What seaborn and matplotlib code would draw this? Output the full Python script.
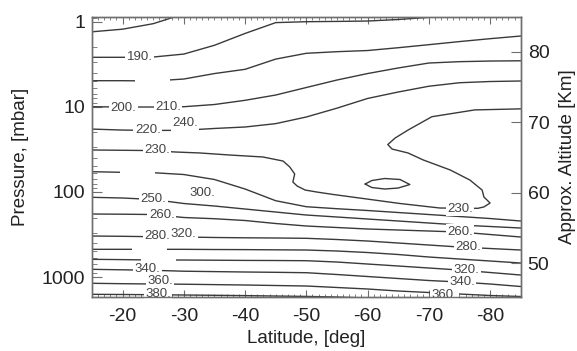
import matplotlib
matplotlib.use("Agg")
import matplotlib.pyplot as plt
from matplotlib.ticker import FixedLocator, LogLocator, MultipleLocator, NullFormatter
import seaborn as sns

sns.set_theme(style="ticks")
plt.rcParams["font.family"] = ["Liberation Sans", "DejaVu Sans"]
plt.rcParams["axes.unicode_minus"] = False

# -------------------------------
# Isotherms: pressure (mbar) along latitude (deg)
# -------------------------------
lat = [-15, -20, -25, -30, -35, -40, -45, -50, -55, -60, -65, -70, -75, -80, -85]

top_lat = [-15, -20, -25, -27.5, -30]
top_p = [1.32, 1.23, 1.06, 0.93, 0.80]

t190_lat = lat[:12] + [-75]
t190_p = [2.63, 2.63, 2.61, 2.41, 1.90, 1.38, 1.03, 1.005, 0.997, 0.987, 0.947, 0.893, 0.806]

t200_p = [4.95, 4.95, 4.99, 4.73, 4.08, 3.64, 2.76, 2.36, 2.26, 2.19, 2.03, 1.87, 1.72, 1.59, 1.48]
t210_p = [10.0, 10.08, 10.08, 10.0, 9.42, 8.41, 7.29, 5.95, 4.86, 4.08, 3.51, 3.07, 2.96, 2.91, 2.89]
t220_p = [18.3, 18.8, 19.0, 18.9, 18.0, 17.3, 15.8, 13.2, 10.4, 8.0, 6.72, 5.75, 5.23, 5.06, 4.99]
t240_p = [57.9, 58.9, 59.5, 62.5, 71.5, 92.5, 126.9, 149.2, 157.5, 165.3, 174.5, 184.2, 194.4, 205.3, 219.5]
t250_p = [115.7, 117.9, 122.8, 136.8, 146.4, 158.8, 172.2, 186.7, 197.0, 208.0, 219.5, 231.7, 244.6, 254.7, 265.3]
t260_p = [181.7, 182.7, 184.2, 199.7, 206.4, 216.6, 234.9, 251.3, 261.7, 272.5, 280.0, 287.7, 295.6, 316.2, 338.2]
t280_p = [329.3, 332.0, 335.6, 338.2, 342.8, 345.6, 347.5, 350.4, 362.0, 377.0, 398.0, 420.1, 443.4, 461.7, 480.8]
t300_p = [471.8, 471.8, 471.8, 471.8, 474.4, 475.7, 478.3, 480.8, 494.0, 514.4, 542.9, 580.8, 613.3, 647.1, 683.1]
t320_p = [618.3, 623.3, 630.1, 630.1, 633.5, 636.8, 638.6, 642.0, 665.1, 702.0, 740.8, 782.0, 825.4, 883.1, 944.9]
t340_p = [810.0, 821.0, 832.2, 852.7, 861.8, 871.2, 878.4, 887.9, 932.2, 984.0, 1038.5, 1096.2, 1141.5, 1205.0, 1289.0]
t360_p = [1182, 1195, 1205, 1212, 1225, 1238, 1255, 1272, 1324, 1379, 1456, 1516, 1579, 1644, 1689]
t380_lat = lat[:10]
t380_p = [1592, 1600, 1609, 1622, 1635, 1649, 1667, 1685, 1713, 1760]

# 230 K isotherm that folds back around the warm tongue
lobe_lat = [-85.0, -77.5, -70.5, -66.6, -64.5, -63.3, -64.0, -66.6, -69.1, -73.5, -76.7,
            -78.7, -79.0, -80.0, -79.0, -78.0, -71.8, -65.3, -59.9, -54.4, -51.7, -49.8,
            -48.5, -47.8, -48.1, -47.3, -46.2, -42.9, -37.5, -32.6, -28.6, -24.5, -15.0]
lobe_p = [10.6, 10.9, 13.1, 18.8, 23.3, 27.8, 31.4, 34.9, 42.2, 55.3, 72.5,
          95.0, 114.8, 135.0, 150.0, 155.8, 154.5, 136.8, 121.2, 107.2, 100.3, 95.0,
          85.3, 76.5, 61.6, 51.0, 43.4, 38.9, 36.9, 34.9, 34.0, 32.7, 32.2]

# small closed contour near -62 deg
loop_lat = [-59.6, -60.7, -62.8, -65.3, -66.9, -65.0, -62.8, -60.7, -59.6]
loop_p = [80.8, 73.5, 69.6, 71.5, 81.9, 90.0, 92.5, 88.8, 80.8]

# contour labels
label_text = ["190.", "200.", "210.", "220.", "240.", "230.", "250.", "300.", "260.", "280.",
              "320.", "340.", "360.", "380.", "230.", "260.", "280.", "320.", "340.", "360."]
label_lat = [-22.8, -20.1, -27.4, -24.1, -30.2, -25.6, -25.0, -33.1, -26.4, -25.6,
             -29.9, -24.1, -26.1, -25.8, -75.1, -75.1, -76.4, -76.2, -75.4, -72.6]
label_p = [2.63, 10.36, 10.0, 18.77, 15.66, 31.8, 121.2, 103.0, 186.7, 329.3,
           312.0, 810.0, 1117.0, 1579.0, 156.6, 293.2, 446.9, 814.3, 1148.0, 1622.0]

# unlabeled breaks in some isotherms
gap_lat = [-24.9, -22.4, -24.4, -25.9]
gap_p = [4.99, 59.2, 472.0, 630.0]

# -------------------------------
# Figure
# -------------------------------
line_color = "#3a3a3a"
frame_color = "#6e6e6e"

fig = plt.figure(figsize=(5.77, 3.51), dpi=100)
ax = fig.add_axes([0.1594, 0.1547, 0.7430, 0.7977])
ax.set_yscale("log")

lines = [
    (top_lat, top_p), (t190_lat, t190_p), (lat, t200_p), (lat, t210_p), (lat, t220_p),
    (lat, t240_p), (lat, t250_p), (lat, t260_p), (lat, t280_p), (lat, t300_p),
    (lat, t320_p), (lat, t340_p), (lat, t360_p), (t380_lat, t380_p),
    (lobe_lat, lobe_p), (loop_lat, loop_p),
]
for xs, ys in lines:
    sns.lineplot(x=xs, y=ys, sort=False, estimator=None, color=line_color,
                 linewidth=1.0, ax=ax)

box = dict(facecolor="white", edgecolor="none", pad=1.0)
for t, x, y in zip(label_text, label_lat, label_p):
    ax.text(x, y, t, fontsize=9.5, color="#444444", ha="center", va="center",
            bbox=box, zorder=5)
# thin white breaks (no label) in a few isotherms
gap_box = dict(facecolor="white", edgecolor="none", pad=0.5)
for x, y in zip(gap_lat, gap_p):
    ax.text(x, y, " " * 17, fontsize=5, ha="center", va="center", bbox=gap_box, zorder=4)

ax.set_xlim(-15, -85)
ax.set_ylim(1698, 0.878)

ax.xaxis.set_major_locator(FixedLocator([-20, -30, -40, -50, -60, -70, -80]))
ax.xaxis.set_minor_locator(MultipleLocator(1))
ax.yaxis.set_major_locator(FixedLocator([1, 10, 100, 1000]))
ax.set_yticklabels(["1", "10", "100", "1000"])
ax.yaxis.set_minor_locator(LogLocator(base=10, subs=range(2, 10)))
ax.yaxis.set_minor_formatter(NullFormatter())

ax.tick_params(axis="x", which="both", direction="in", top=True, bottom=True,
               colors=frame_color, labelcolor="#222222", labelsize=14, pad=8)
ax.tick_params(axis="x", which="major", length=5, width=0.8)
ax.tick_params(axis="x", which="minor", length=2.5, width=0.6)
ax.tick_params(axis="y", which="both", direction="in", left=True, right=False,
               colors=frame_color, labelcolor="#222222", labelsize=14, pad=5)
ax.tick_params(axis="y", which="major", length=7, width=0.8)
ax.tick_params(axis="y", which="minor", length=3.5, width=0.6)

ax.set_xlabel("Latitude, [deg]", fontsize=13.5, color="#222222", labelpad=4)
ax.set_ylabel("Pressure, [mbar]", fontsize=13.5, color="#222222", labelpad=9)

ax2 = ax.twinx()
ax2.set_ylim(45.23, 84.96)
ax2.set_yticks([50, 60, 70, 80])
ax2.tick_params(axis="y", direction="in", length=7, width=0.8, colors=frame_color,
                labelcolor="#222222", labelsize=14, pad=5)
ax2.set_ylabel("Approx. Altitude [Km]", fontsize=13.5, color="#222222", labelpad=7)

for a in (ax, ax2):
    for s in a.spines.values():
        s.set_color(frame_color)
        s.set_linewidth(1.0)

fig.savefig("out.png", dpi=100, facecolor="white")
